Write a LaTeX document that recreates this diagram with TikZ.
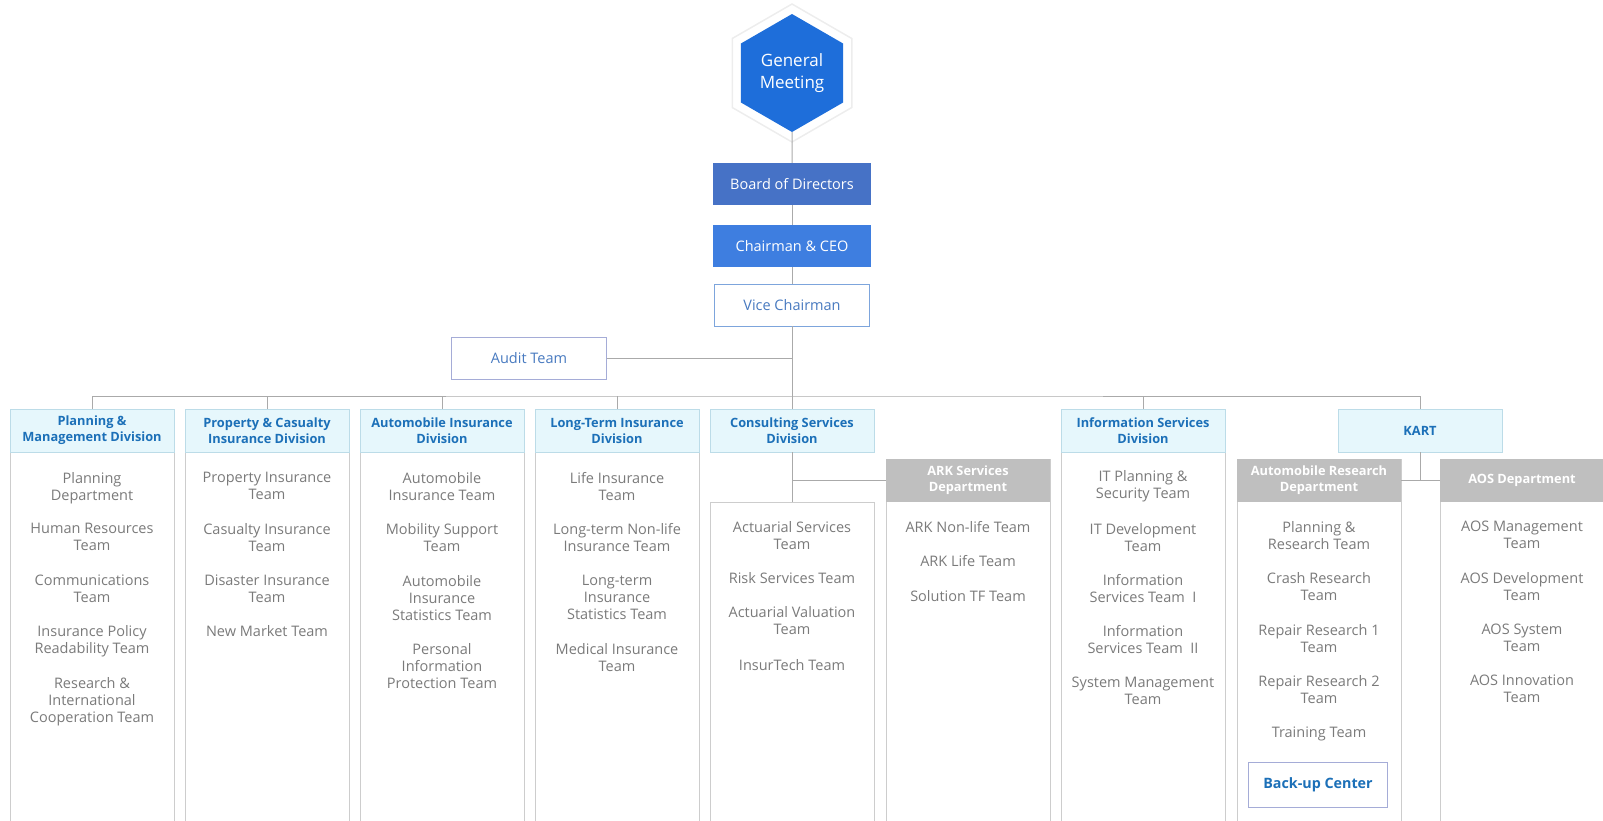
\documentclass[tikz,border=0pt]{standalone}
\usepackage{fontspec}
\setmainfont{Open Sans}
\usepackage{xcolor}
\definecolor{hexblue}{RGB}{30,110,218}
\definecolor{boardblue}{RGB}{70,114,198}
\definecolor{ceoblue}{RGB}{62,126,224}
\definecolor{viceline}{RGB}{125,165,220}
\definecolor{vicetext}{RGB}{72,122,192}
\definecolor{auditline}{RGB}{165,172,215}
\definecolor{headfill}{RGB}{230,247,252}
\definecolor{headline}{RGB}{188,220,232}
\definecolor{headtext}{RGB}{28,112,184}
\definecolor{deptgray}{RGB}{191,191,191}
\definecolor{teamgray}{RGB}{122,122,122}
\definecolor{colgray}{RGB}{205,205,205}
\definecolor{conngray}{RGB}{170,170,170}
\usetikzlibrary{shapes.geometric}

\begin{document}
\begin{tikzpicture}[
  x=1pt, y=-1pt,
  font=\fontsize{14.5}{17}\selectfont,
  % --- chart style ------------------------------------------------------
  hexbox/.style={regular polygon, regular polygon sides=6, shape border rotate=30,
                 fill=hexblue, minimum size=118pt, inner sep=0pt, text=white,
                 align=center, font=\fontsize{17}{22}\selectfont},
  hexhalo/.style={regular polygon, regular polygon sides=6, shape border rotate=30,
                  draw=black!7, line width=1.5pt, minimum size=138pt},
  topbox/.style={text=white, minimum width=158pt, minimum height=42pt,
                 inner sep=0pt, align=center},
  linebox/.style={fill=white, draw=viceline, line width=0.8pt, text=vicetext,
                  minimum width=155pt, minimum height=42pt, inner sep=0pt},
  divhead/.style={fill=headfill, draw=headline, line width=0.8pt, text=headtext,
                  font=\fontsize{12.8}{16}\selectfont\bfseries, align=center,
                  minimum width=164pt, minimum height=43pt, inner sep=0pt},
  depthead/.style={fill=deptgray, text=white,
                   font=\fontsize{12.8}{16}\selectfont\bfseries, align=center,
                   minimum width=164pt, minimum height=43pt, inner sep=0pt},
  team/.style={text=teamgray, align=center, inner sep=0pt, anchor=north},
  colline/.style={draw=colgray, line width=0.8pt},
  conn/.style={conngray, line width=1pt},
  % ---------------------------------------------------------------------
]
  \clip (0,0) rectangle (1603,820);
  \coordinate (floor) at (0,830);

  % Top of the chart
  \node[hexhalo] (halo) at (792,73) {};
  \node[hexbox] (gm) at (792,73) {General\\Meeting};
  \node[topbox, fill=boardblue] (board) at (792,184) {Board of Directors};
  \node[topbox, fill=ceoblue] (ceo) at (792,246) {Chairman \& CEO};
  \node[linebox] (vice) at (792,305) {Vice Chairman};
  \node[linebox, draw=auditline] (audit) at (529,358) {Audit Team};

  % Division column frames
  \draw[colline] (10,409) rectangle (174,830);
  \draw[colline] (185,409) rectangle (349,830);
  \draw[colline] (360,409) rectangle (524,830);
  \draw[colline] (535,409) rectangle (699,830);
  \draw[colline] (710,502) rectangle (874,830);
  \draw[colline] (886,459) rectangle (1050,830);
  \draw[colline] (1061,409) rectangle (1225,830);
  \draw[colline] (1237,459) rectangle (1401,830);
  \draw[colline] (1440,459) rectangle (1604,830);

  % Division headers
  \node[divhead] (d1) at (92,430.5) {Planning \&\\Management Division};
  \node[divhead] (d2) at (267,430.5) {Property \& Casualty\\Insurance Division};
  \node[divhead] (d3) at (442,430.5) {Automobile Insurance\\Division};
  \node[divhead] (d4) at (617,430.5) {Long-Term Insurance\\Division};
  \node[divhead] (d5) at (792,430.5) {Consulting Services\\Division};
  \node[divhead] (d6) at (1143,430.5) {Information Services\\Division};
  \node[divhead] (kart) at (1420,430.5) {KART};

  % Departments
  \node[depthead] (ark) at (968,480.5) {ARK Services\\Department};
  \node[depthead] (ar) at (1319,480.5) {Automobile Research\\Department};
  \node[depthead] (aos) at (1522,480.5) {AOS Department};
  \coordinate (consbody) at (792,502);

  % Planning & Management
  \node[team] (t11) at (92,472) {Planning\\Department};
  \node[team] (t12) at (92,523) {Human Resources\\Team};
  \node[team] (t13) at (92,575) {Communications\\Team};
  \node[team] (t14) at (92,625) {Insurance Policy\\Readability Team};
  \node[team] (t15) at (92,677) {Research \&\\International\\Cooperation Team};

  % Property & Casualty
  \node[team] (t21) at (267,472) {Property Insurance\\Team};
  \node[team] (t22) at (267,523) {Casualty Insurance\\Team};
  \node[team] (t23) at (267,575) {Disaster Insurance\\Team};
  \node[team] (t24) at (267,625) {New Market Team};

  % Automobile Insurance
  \node[team] (t31) at (442,472) {Automobile\\Insurance Team};
  \node[team] (t32) at (442,523) {Mobility Support\\Team};
  \node[team] (t33) at (442,575) {Automobile\\Insurance\\Statistics Team};
  \node[team] (t34) at (442,643) {Personal\\Information\\Protection Team};

  % Long-Term Insurance
  \node[team] (t41) at (617,472) {Life Insurance\\Team};
  \node[team] (t42) at (617,523) {Long-term Non-life\\Insurance Team};
  \node[team] (t43) at (617,575) {Long-term\\Insurance\\Statistics Team};
  \node[team] (t44) at (617,643) {Medical Insurance\\Team};

  % Consulting Services
  \node[team] (t51) at (792,521) {Actuarial Services\\Team};
  \node[team] (t52) at (792,572) {Risk Services Team};
  \node[team] (t53) at (792,606) {Actuarial Valuation\\Team};
  \node[team] (t54) at (792,659) {InsurTech Team};

  % ARK Services
  \node[team] (t61) at (968,521) {ARK Non-life Team};
  \node[team] (t62) at (968,555) {ARK Life Team};
  \node[team] (t63) at (968,590) {Solution TF Team};

  % Information Services
  \node[team] (t71) at (1143,470) {IT Planning \&\\Security Team};
  \node[team] (t72) at (1143,523) {IT Development\\Team};
  \node[team] (t73) at (1143,574) {Information\\Services Team~~I};
  \node[team] (t74) at (1143,625) {Information\\Services Team~~II};
  \node[team] (t75) at (1143,677) {System Management\\Team};

  % Automobile Research
  \node[team] (t81) at (1319,521) {Planning \&\\Research Team};
  \node[team] (t82) at (1319,572) {Crash Research\\Team};
  \node[team] (t83) at (1319,624) {Repair Research 1\\Team};
  \node[team] (t84) at (1319,675) {Repair Research 2\\Team};
  \node[team] (t85) at (1319,727) {Training Team};
  \node[linebox, draw=auditline, text=headtext, font=\fontsize{14.3}{17}\selectfont\bfseries,
        minimum width=139pt, minimum height=45pt] (backup) at (1318,785) {Back-up Center};

  % AOS
  \node[team] (t91) at (1522,521) {AOS Management\\Team};
  \node[team] (t92) at (1522,572) {AOS Development\\Team};
  \node[team] (t93) at (1522,624) {AOS System\\Team};
  \node[team] (t94) at (1522,675) {AOS Innovation\\Team};

  % Connectors
  \coordinate (bus) at (792,396);
  \draw[conn] (gm.south) -- (board.north);
  \draw[conn] (board.south) -- (ceo.north);
  \draw[conn] (ceo.south) -- (vice.north);
  \draw[conn] (vice.south) -- (d5.north);
  \draw[conn] (audit.east) -- (audit.east -| vice.south);
  \draw[conn] (d1.north) |- (bus) -| (kart.north);
  \draw[conn] (d2.north) -- (d2.north |- bus);
  \draw[conn] (d3.north) -- (d3.north |- bus);
  \draw[conn] (d4.north) -- (d4.north |- bus);
  \draw[conn] (d6.north) -- (d6.north |- bus);
  \draw[conn] (d5.south) -- (consbody);
  \draw[conn] (d5.south |- ark.west) -- (ark.west);
  \draw[conn] (kart.south) -- (kart.south |- ar.east);
  \draw[conn] (ar.east) -- (aos.west);
\end{tikzpicture}
\end{document}
